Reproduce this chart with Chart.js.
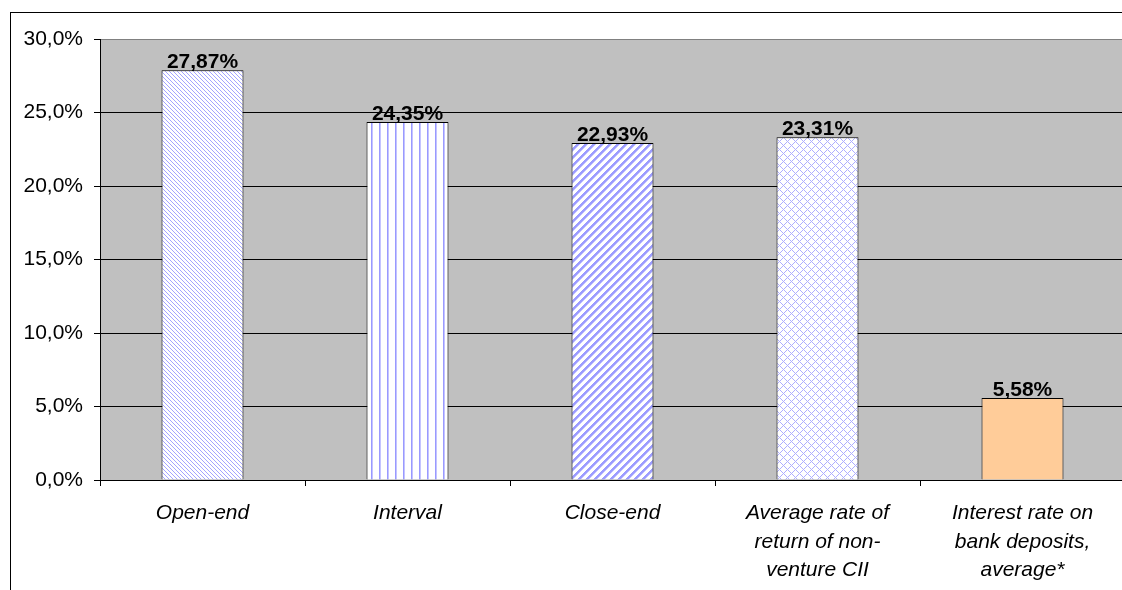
<!DOCTYPE html>
<html>
<head>
<meta charset="utf-8">
<script src="https://cdn.jsdelivr.net/npm/chart.js@4"></script>
<style>
  body { margin: 0; background: #fff; overflow: hidden; }
  #frame { position: absolute; left: 10px; top: 12px; width: 1200px; height: 640px; border: 1px solid #000; }
  #chart { position: absolute; left: 0; top: 0; }
</style>
</head>
<body>
<div id="frame"><canvas id="chart" width="1200" height="620"></canvas></div>
<script>
const categories = [
  ['Open-end'],
  ['Interval'],
  ['Close-end'],
  ['Average rate of', 'return of non-', 'venture CII'],
  ['Interest rate on', 'bank deposits,', 'average*']
];
const returns = [27.87, 24.35, 22.93, 23.31, 5.58];
const yTicks = [0, 5, 10, 15, 20, 25, 30];

const font = "'Liberation Sans', Arial, sans-serif";

// small tile -> CanvasPattern, fn(x, y) gives a colour or null (white)
function makePattern(size, fn) {
  const c = document.createElement('canvas');
  c.width = size;
  c.height = size;
  const g = c.getContext('2d');
  g.fillStyle = '#fff';
  g.fillRect(0, 0, size, size);
  for (let y = 0; y < size; y++) {
    for (let x = 0; x < size; x++) {
      const col = fn(x, y);
      if (col) {
        g.fillStyle = col;
        g.fillRect(x, y, 1, 1);
      }
    }
  }
  return g.createPattern(c, 'repeat');
}

const openEnd = makePattern(4, (x, y) => ((x - y + 4) % 4 === 0 ? '#a4a4ff' : null));
const interval = makePattern(8, (x) => (x === 0 ? '#9a9aff' : x === 1 ? '#c4c4ff' : null));
const closeEnd = makePattern(8, (x, y) => {
  const k = (x + y) % 8;
  return k < 3 ? '#9c9cff' : k === 3 ? '#c8c8ff' : null;
});
const average = makePattern(8, (x, y) =>
  ((x + y) % 8 === 0 || (x - y + 8) % 8 === 0) ? '#aeaeff' : null);

const fills = [openEnd, interval, closeEnd, average, '#ffcc99'];

const plotBackground = {
  id: 'plotBackground',
  beforeDraw(chart) {
    const { ctx, chartArea: a } = chart;
    ctx.save();
    ctx.fillStyle = '#c0c0c0';
    ctx.fillRect(a.left, a.top, a.right - a.left, a.bottom - a.top);
    ctx.restore();
  }
};

const valueLabels = {
  id: 'valueLabels',
  afterDatasetsDraw(chart) {
    const { ctx } = chart;
    ctx.save();
    ctx.font = 'bold 21px ' + font;
    ctx.fillStyle = '#000';
    ctx.textAlign = 'center';
    ctx.textBaseline = 'alphabetic';
    chart.getDatasetMeta(0).data.forEach((bar, i) => {
      const txt = returns[i].toFixed(2).replace('.', ',') + '%';
      ctx.fillText(txt, bar.x, bar.y - 2);
    });
    ctx.restore();
  }
};

new Chart(document.getElementById('chart'), {
  type: 'bar',
  data: {
    labels: categories,
    datasets: [{
      data: returns,
      backgroundColor: fills,
      borderColor: '#000',
      borderWidth: 1,
      categoryPercentage: 1,
      barPercentage: 0.4
    }]
  },
  options: {
    responsive: false,
    animation: false,
    layout: { padding: { left: 0, top: 26, right: 86, bottom: 0 } },
    plugins: { legend: { display: false }, tooltip: { enabled: false } },
    scales: {
      x: {
        afterFit(s) { s.height = 153; },
        grid: { drawOnChartArea: false, drawTicks: true, tickLength: 6, tickColor: '#000', offset: true },
        border: { color: '#000', width: 1 },
        ticks: {
          color: '#000',
          padding: 13,
          maxRotation: 0,
          autoSkip: false,
          font: { family: font, size: 21, style: 'italic', lineHeight: 1.36 }
        }
      },
      y: {
        min: 0,
        max: 30,
        afterFit(s) { s.width = 89; },
        afterBuildTicks(s) { s.ticks = yTicks.map(v => ({ value: v })); },
        grid: {
          color: (c) => (c.tick && c.tick.value === 30 ? '#808080' : '#000'),
          lineWidth: 1,
          tickLength: 6,
          tickColor: '#000'
        },
        border: { color: '#000', width: 1 },
        ticks: {
          color: '#000',
          padding: 11,
          font: { family: font, size: 21 },
          callback: (v) => v.toFixed(1).replace('.', ',') + '%'
        }
      }
    }
  },
  plugins: [plotBackground, valueLabels]
});
</script>
</body>
</html>
